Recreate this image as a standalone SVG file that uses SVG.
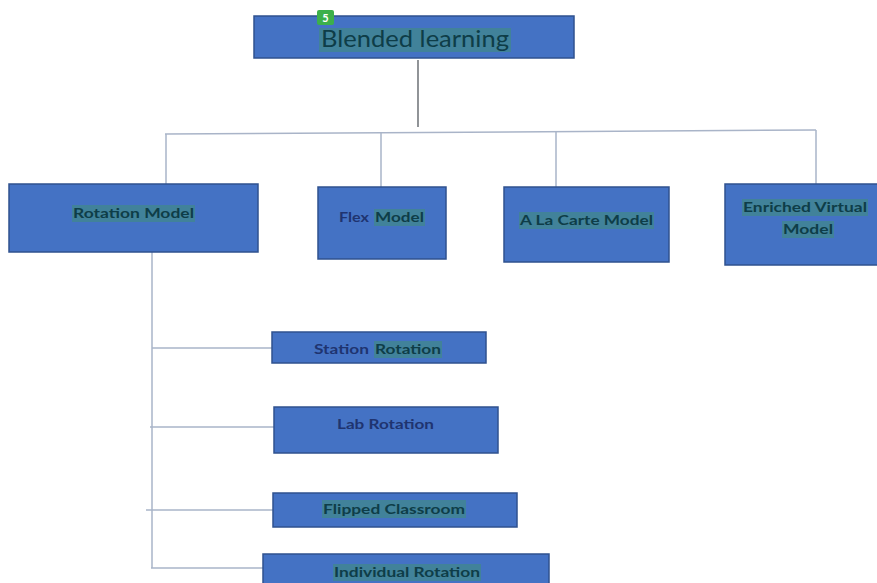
<svg xmlns="http://www.w3.org/2000/svg" width="877" height="583" viewBox="0 0 877 583">
<style>
.box{fill:#4472c4;stroke:#2f528f;stroke-width:1.5}
.lbl{font-family:Lato,"Liberation Sans",sans-serif;font-weight:bold;font-size:14px;fill:#0e3d48}
.nav{fill:#1f3470}
.hl{fill:#3f9078;opacity:0.55}
.conn line{stroke:#a9b4c8;stroke-width:1.5}
.conn line.dark{stroke:#555a60;stroke-width:1.3}
</style>
<rect width="877" height="583" fill="#ffffff"/>
<g class="conn">
<line class="dark" x1="418" y1="60" x2="418" y2="127"/>
<line x1="165" y1="134" x2="816" y2="130"/>
<line x1="166" y1="134" x2="166" y2="184"/>
<line x1="381" y1="132.7" x2="381" y2="187"/>
<line x1="556" y1="131.6" x2="556" y2="187"/>
<line x1="816" y1="130" x2="816" y2="184"/>
<line x1="152" y1="252" x2="152" y2="568"/>
<line x1="152" y1="348" x2="272" y2="348"/>
<line x1="150" y1="427" x2="274" y2="427"/>
<line x1="146" y1="510" x2="273" y2="510"/>
<line x1="151" y1="568" x2="263" y2="568"/>
</g>
<g id="blended">
<rect class="box" x="254" y="16" width="320" height="42"/>
<rect class="hl" x="319" y="28" width="192" height="24"/>
<text x="321" y="47" textLength="188" lengthAdjust="spacingAndGlyphs" style="font-family:Lato,'Liberation Sans',sans-serif;font-size:23px;fill:#0e3d48">Blended learning</text>
<rect x="317" y="10" width="17" height="15" rx="2" fill="#3cb04a"/>
<text x="325.5" y="22" text-anchor="middle" style="font-family:Lato,'Liberation Sans',sans-serif;font-size:11px;fill:#ffffff;font-weight:bold">5</text>
</g>
<g id="rotation">
<rect class="box" x="9" y="184" width="249" height="68"/>
<rect class="hl" x="72" y="205" width="123" height="17"/>
<text class="lbl" x="73" y="218" textLength="121" lengthAdjust="spacingAndGlyphs">Rotation Model</text>
</g>
<g id="flex">
<rect class="box" x="318" y="187" width="128" height="72"/>
<rect class="hl" x="374" y="209" width="51" height="17"/>
<text class="lbl nav" x="339" y="222" textLength="30" lengthAdjust="spacingAndGlyphs">Flex</text>
<text class="lbl" x="375" y="222" textLength="49" lengthAdjust="spacingAndGlyphs">Model</text>
</g>
<g id="alacarte">
<rect class="box" x="504" y="187" width="165" height="75"/>
<rect class="hl" x="519" y="212" width="135" height="17"/>
<text class="lbl" x="520" y="225" textLength="133" lengthAdjust="spacingAndGlyphs">A La Carte Model</text>
</g>
<g id="enriched">
<rect class="box" x="725" y="184" width="160" height="81"/>
<rect class="hl" x="742" y="199" width="126" height="17"/>
<rect class="hl" x="782" y="221" width="52" height="17"/>
<text class="lbl" x="743" y="212" textLength="124" lengthAdjust="spacingAndGlyphs">Enriched Virtual</text>
<text class="lbl" x="783" y="234" textLength="50" lengthAdjust="spacingAndGlyphs">Model</text>
</g>
<g id="station">
<rect class="box" x="272" y="332" width="214" height="31"/>
<rect class="hl" x="374" y="341" width="68" height="17"/>
<text class="lbl nav" x="314" y="354" textLength="55" lengthAdjust="spacingAndGlyphs">Station</text>
<text class="lbl" x="375" y="354" textLength="66" lengthAdjust="spacingAndGlyphs">Rotation</text>
</g>
<g id="lab">
<rect class="box" x="274" y="407" width="224" height="46"/>
<text class="lbl nav" x="337" y="429" textLength="97" lengthAdjust="spacingAndGlyphs">Lab Rotation</text>
</g>
<g id="flipped">
<rect class="box" x="273" y="493" width="244" height="34"/>
<rect class="hl" x="322" y="500" width="144" height="18"/>
<text class="lbl" x="323" y="514" textLength="142" lengthAdjust="spacingAndGlyphs">Flipped Classroom</text>
</g>
<g id="individual">
<rect class="box" x="263" y="554" width="286" height="40"/>
<rect class="hl" x="333" y="564" width="148" height="17"/>
<text class="lbl" x="334" y="577" textLength="146" lengthAdjust="spacingAndGlyphs">Individual Rotation</text>
</g>
</svg>
